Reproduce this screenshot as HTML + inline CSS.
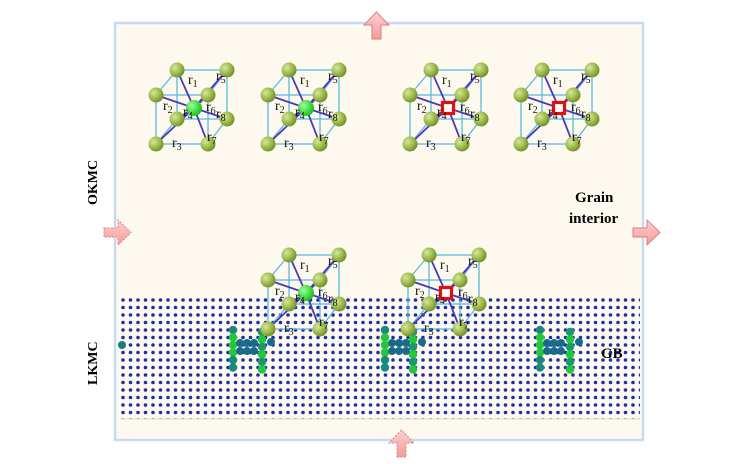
<!DOCTYPE html>
<html><head><meta charset="utf-8"><style>
body{margin:0;background:#fff;width:750px;height:464px;overflow:hidden}
svg{display:block}
text{font-family:"Liberation Serif",serif}
</style></head><body>
<svg id="s" width="750" height="464" xmlns="http://www.w3.org/2000/svg">
<defs>
<radialGradient id="gy" cx="0.35" cy="0.35" r="0.7"><stop offset="0" stop-color="#d6e6a0"/><stop offset="0.6" stop-color="#9ab846"/><stop offset="1" stop-color="#6f8a2a"/></radialGradient>
<radialGradient id="gg" cx="0.35" cy="0.35" r="0.7"><stop offset="0" stop-color="#9dff9d"/><stop offset="1" stop-color="#10c010"/></radialGradient>
<pattern id="dots" x="120" y="297" width="7.5" height="7.5" patternUnits="userSpaceOnUse"><circle cx="3" cy="3" r="1.8" fill="#1c2fa8"/></pattern>
<linearGradient id="ar" x1="0" y1="0" x2="0" y2="1"><stop offset="0" stop-color="#ffd0d0"/><stop offset="1" stop-color="#f49a9a"/></linearGradient>
</defs>
<rect x="115" y="23" width="528" height="417" fill="#fdf9ee" stroke="#c8daf2" stroke-width="2.5"/>
<rect x="120" y="297" width="520" height="122" fill="url(#dots)"/>
<line x1="120" y1="419" x2="640" y2="419" stroke="#ccc" stroke-width="0.8"/>
<g id="gb"></g>
<g id="cubes"></g>
<path d="M372 39 h9 v-14 h8 l-12.5 -13 l-12.5 13 h8 z" fill="url(#ar)" stroke="#d98080"/>
<path d="M397 457 h9 v-14 h8 l-12.5 -13 l-12.5 13 h8 z" fill="url(#ar)" stroke="#d98080" stroke-dasharray="2 1.5"/>
<path d="M104 228 h14 v-8 l13 12.5 l-13 12.5 v-8 h-14 z" fill="url(#ar)" stroke="#d98080" stroke-dasharray="2 1.5"/>
<path d="M633 228 h14 v-8 l13 12.5 l-13 12.5 v-8 h-14 z" fill="url(#ar)" stroke="#d98080"/>
<text x="575" y="202" font-size="15" font-weight="bold">Grain</text>
<text x="569" y="223" font-size="15" font-weight="bold">interior</text>
<text x="601" y="358" font-size="15" font-weight="bold">GB</text>
<text transform="translate(97,205) rotate(-90)" font-size="14" font-weight="bold">OKMC</text>
<text transform="translate(97,385) rotate(-90)" font-size="14" font-weight="bold">LKMC</text>
</svg>
<script>
const NS="http://www.w3.org/2000/svg";
function el(p,t,a,txt){const e=document.createElementNS(NS,t);for(const k in a)e.setAttribute(k,a[k]);if(txt)e.textContent=txt;p.appendChild(e);return e;}
const gb=document.getElementById('gb');
el(gb,'circle',{cx:122,cy:345,r:4,fill:'#1b7a86'});
[[233,262],[385,413],[540,570]].forEach(([a,b])=>{
 for(let i=0;i<6;i++){const y=330+i*7.5;const c=(i>=1&&i<=3)?'#22c83a':'#1a8a7a';
  el(gb,'circle',{cx:a,cy:y,r:4.2,fill:c});el(gb,'circle',{cx:b,cy:y+2,r:4.2,fill:i%2?'#22c83a':'#1a9a6a'});}
 for(let j=1;j<4;j++){el(gb,'circle',{cx:a+j*7,cy:343,r:4,fill:'#1a6a8a'});el(gb,'circle',{cx:a+j*7,cy:351,r:4,fill:'#1a6a8a'});}
 el(gb,'circle',{cx:b+9,cy:342,r:4,fill:'#1a6a8a'});
});
const cg=document.getElementById('cubes');
function cube(cx,cy,red){
 const B=[[-17,-38],[33,-38],[33,11],[-17,11]].map(p=>[cx+p[0],cy+p[1]]);
 const F=[[-38,-13],[14,-13],[14,36],[-38,36]].map(p=>[cx+p[0],cy+p[1]]);
 const ln=(a,b,c,w)=>el(cg,'line',{x1:a[0],y1:a[1],x2:b[0],y2:b[1],stroke:c,'stroke-width':w||1.3});
 for(let i=0;i<4;i++){ln(B[i],B[(i+1)%4],'#5ab8e0');ln(F[i],F[(i+1)%4],'#5ab8e0');ln(B[i],F[i],'#5ab8e0');}
 const C=[cx,cy];
 [...B,...F].forEach(p=>ln(C,p,'#4a3ab8',1.8));
 B.forEach(p=>el(cg,'circle',{cx:p[0],cy:p[1],r:7.5,fill:'url(#gy)'}));
 if(red){el(cg,'rect',{x:cx-5.5,y:cy-5.5,width:11,height:11,fill:'#fff',stroke:'#e01010','stroke-width':3.2});}
 else el(cg,'circle',{cx:cx,cy:cy,r:8,fill:'url(#gg)'});
 F.forEach(p=>el(cg,'circle',{cx:p[0],cy:p[1],r:7.5,fill:'url(#gy)'}));
 const L=[['1',-6,-24],['5',22,-28],['2',-31,2],['4',-11,8],['6',12,3],['8',22,10],['7',13,33],['3',-22,39]];
 L.forEach(([n,dx,dy])=>{const t=el(cg,'text',{x:cx+dx,y:cy+dy,'font-size':14,fill:'#111'},'r');el(t,'tspan',{'font-size':10,dy:3},n);});
}
cube(194,108,false);cube(306,108,false);cube(448,108,true);cube(559,108,true);
cube(306,293,false);cube(446,293,true);
</script>
</body></html>
